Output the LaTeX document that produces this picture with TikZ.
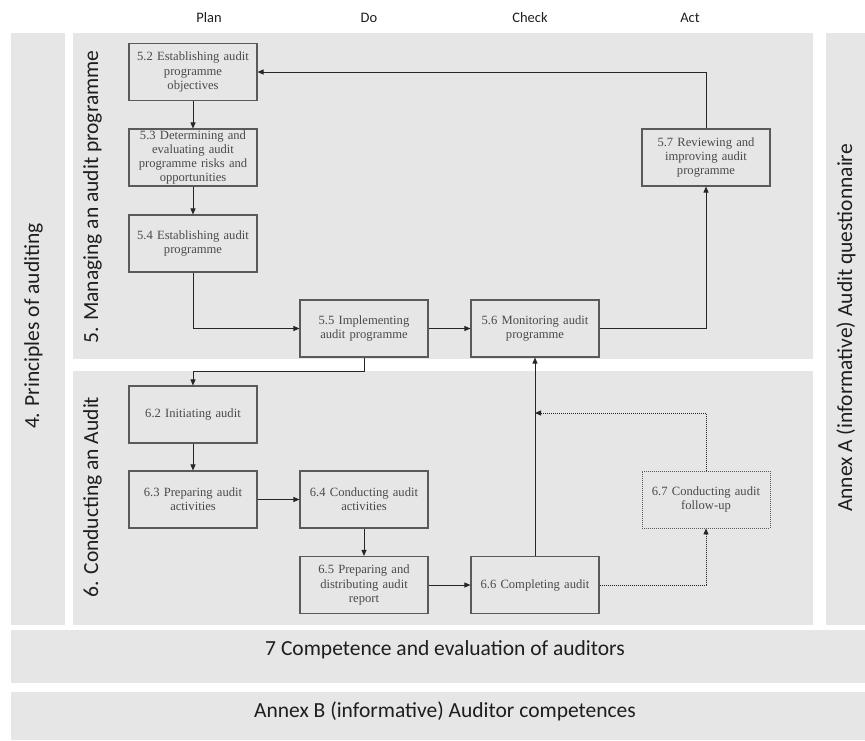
\documentclass[tikz,border=0pt]{standalone}
\usepackage{fontspec}
\setmainfont{Liberation Serif}
\newfontfamily\labelfont{Carlito}
\usetikzlibrary{arrows.meta}
\definecolor{panelgray}{HTML}{E6E6E6}
\definecolor{boxline}{HTML}{5A5A5A}
\definecolor{boxtext}{HTML}{4A4A4A}
\definecolor{flowline}{HTML}{262626}
\definecolor{labeltext}{HTML}{1E1E1E}

\begin{document}
\begin{tikzpicture}[x=1pt,y=-1pt,
  panel/.style={fill=panelgray, draw=none},
  stepbox/.style={draw=boxline, line width=1.1pt, fill=panelgray,
    minimum width=128pt, minimum height=57pt, text width=126pt,
    align=center, inner sep=0pt, text=boxtext,
    font=\fontsize{12.6}{14.3}\selectfont},
  followbox/.style={stepbox, dash pattern=on 1pt off 1pt, line width=0.9pt},
  flow/.style={draw=flowline, line width=0.9pt,
    -{Triangle[length=6pt,width=5pt]}},
  dotflow/.style={flow, dash pattern=on 1pt off 1pt},
  phase/.style={font=\labelfont\fontsize{14.5}{17}\selectfont, text=labeltext, anchor=base},
  biglabel/.style={font=\labelfont\fontsize{21.5}{25}\selectfont, text=labeltext, anchor=base},
  sidelabel/.style={biglabel, rotate=90}
]
\useasboundingbox (0,0) rectangle (865,740);

% background panels
\fill[panel] (11,33) rectangle (65,625);
\fill[panel] (73,33) rectangle (813,359);
\fill[panel] (73,371) rectangle (813,625);
\fill[panel] (826,33) rectangle (865,625);
\fill[panel] (11,630) rectangle (865,683);
\fill[panel] (11,692) rectangle (865,740);

% PDCA column headings
\node[phase] (plan)  at (209,22) {Plan};
\node[phase] (do)    at (369,22) {Do};
\node[phase] (check) at (530,22) {Check};
\node[phase] (act)   at (690,22) {Act};

% panel titles
\node[sidelabel] (principles) at (39,326)  {4. Principles of auditing};
\node[sidelabel] (managing)   at (98,197)  {5. Managing an audit programme};
\node[sidelabel] (conducting) at (98,497)  {6. Conducting an Audit};
\node[sidelabel] (annexA)     at (852,328) {Annex A (informative) Audit questionnaire};
\node[biglabel]  (competence) at (445,655) {7 Competence and evaluation of auditors};
\node[biglabel]  (annexB)     at (445,717) {Annex B (informative) Auditor competences};

% clause 5 steps
\node[stepbox] (b52) at (193,72)    {5.2 Establishing audit\\programme\\objectives};
\node[stepbox] (b53) at (193,157.5) {5.3 Determining and\\evaluating audit\\programme risks and\\opportunities};
\node[stepbox] (b54) at (193,243.5) {5.4 Establishing audit\\programme};
\node[stepbox] (b55) at (364,328.5) {5.5 Implementing\\audit programme};
\node[stepbox] (b56) at (535,328.5) {5.6 Monitoring audit\\programme};
\node[stepbox] (b57) at (706,157.5) {5.7 Reviewing and\\improving audit\\programme};

% clause 6 steps
\node[stepbox] (b62) at (193,414.5) {6.2 Initiating audit};
\node[stepbox] (b63) at (193,499.5) {6.3 Preparing audit\\activities};
\node[stepbox] (b64) at (364,499.5) {6.4 Conducting audit\\activities};
\node[stepbox] (b65) at (364,585)   {6.5 Preparing and\\distributing audit\\report};
\node[stepbox] (b66) at (535,585)   {6.6 Completing audit};
\node[followbox] (b67) at (706,499.5) {6.7 Conducting audit\\follow-up};

\coordinate (merge) at (535,413);

% audit programme cycle
\draw[flow] (b52) -- (b53);
\draw[flow] (b53) -- (b54);
\draw[flow] (b54.south) |- (b55.west);
\draw[flow] (b55) -- (b56);
\draw[flow] (b56.east) -| (b57.south);
\draw[flow] (b57.north) |- (b52.east);

% audit activities
\draw[flow] (b55.south) -- ++(0,14) -| (b62.north);
\draw[flow] (b62) -- (b63);
\draw[flow] (b63) -- (b64);
\draw[flow] (b64) -- (b65);
\draw[flow] (b65) -- (b66);
\draw[flow] (b66.north) -- (b56.south);
\draw[dotflow] (b66.east) -| (b67.south);
\draw[dotflow] (b67.north) |- (merge);
\end{tikzpicture}
\end{document}
